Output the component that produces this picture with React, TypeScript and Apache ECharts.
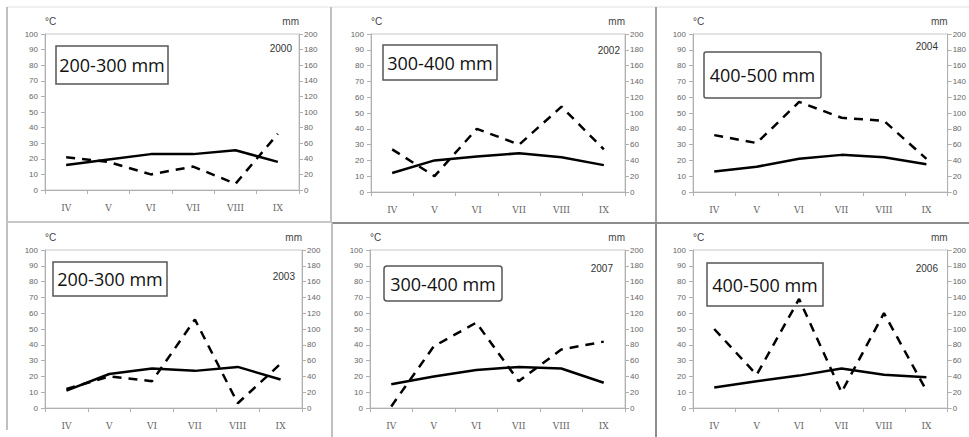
import React, { useEffect, useRef } from "react";
import * as echarts from "echarts";

const months = ["IV", "V", "VI", "VII", "VIII", "IX"];
const leftTicks = { min: 0, max: 100, interval: 10 };
const rightTicks = { min: 0, max: 200, interval: 20 };

const years = ["2000", "2002", "2004", "2003", "2007", "2006"];
const zoneLabels = ["200-300 mm", "300-400 mm", "400-500 mm", "200-300 mm", "300-400 mm", "400-500 mm"];

const temp2000 = [16, 19.5, 23, 23, 25.5, 18];
const precip2000 = [42, 36, 20, 30, 8, 72];
const temp2002 = [12, 20, 22.5, 24.5, 22, 17];
const precip2002 = [54, 20, 80, 60, 108, 54];
const temp2004 = [13, 16, 21, 23.5, 22, 17.5];
const precip2004 = [72, 62, 114, 94, 90, 42];
const temp2003 = [11, 21.5, 25, 23.5, 26, 18];
const precip2003 = [24, 40, 34, 112, 6, 56];
const temp2007 = [15, 20, 24, 26, 25, 16];
const precip2007 = [2, 78, 108, 34, 74, 84];
const temp2006 = [13, 17, 20.5, 25, 21, 19.5];
const precip2006 = [100, 42, 138, 20, 120, 22];

const temps = [temp2000, temp2002, temp2004, temp2003, temp2007, temp2006];
const precips = [precip2000, precip2002, precip2004, precip2003, precip2007, precip2006];

// layout of the six panels (pixels)
const grids = [
  { left: 45, top: 34, width: 254, height: 156 },
  { left: 371, top: 34, width: 254, height: 158 },
  { left: 693, top: 34, width: 255, height: 158 },
  { left: 45, top: 250, width: 257, height: 158 },
  { left: 370, top: 250, width: 255, height: 158 },
  { left: 693, top: 250, width: 255, height: 158 },
];
const boxes = [
  { x: 56, y: 46, w: 112, h: 38, r: 0 },
  { x: 383, y: 45, w: 114, h: 35, r: 0 },
  { x: 704, y: 52, w: 117, h: 46, r: 2 },
  { x: 53, y: 262, w: 114, h: 34, r: 0 },
  { x: 384, y: 266, w: 118, h: 35, r: 3 },
  { x: 707, y: 263, w: 116, h: 43, r: 0 },
];
const yearPos = [
  { x: 292, y: 48 },
  { x: 620, y: 50 },
  { x: 938, y: 46 },
  { x: 295, y: 276 },
  { x: 613, y: 268 },
  { x: 938, y: 268 },
];

const axisGray = "#b0b0b0";
const labelGray = "#666";

export default function App() {
  const ref = useRef<HTMLDivElement>(null);
  useEffect(() => {
    if (!ref.current) return;
    const chart = echarts.init(ref.current, undefined, { renderer: "svg" });

    const gridOpts = grids.map((g) => ({
      left: g.left,
      top: g.top,
      width: g.width,
      height: g.height,
      show: true,
      borderColor: "#c8c8c8",
      borderWidth: 1,
      backgroundColor: "transparent",
    }));

    const xAxes = grids.map((_, i) => ({
      type: "category",
      gridIndex: i,
      data: months,
      boundaryGap: true,
      axisLine: { lineStyle: { color: axisGray } },
      axisTick: { show: true, inside: false, length: 4, lineStyle: { color: axisGray } },
      axisLabel: { color: labelGray, fontSize: 9, fontFamily: "DejaVu Serif", margin: 13 },
      splitLine: { show: false },
    }));

    const yAxes: any[] = [];
    grids.forEach((_, i) => {
      yAxes.push({
        type: "value",
        gridIndex: i,
        position: "left",
        ...leftTicks,
        name: "°C",
        nameLocation: "end",
        nameGap: 8,
        nameTextStyle: { color: "#444", fontSize: 10, align: "left" },
        axisLine: { show: true, lineStyle: { color: axisGray } },
        axisTick: { show: true, length: 4, lineStyle: { color: axisGray } },
        axisLabel: { color: labelGray, fontSize: 8, margin: 7 },
        splitLine: { show: false },
      });
      yAxes.push({
        type: "value",
        gridIndex: i,
        position: "right",
        ...rightTicks,
        name: "mm",
        nameLocation: "end",
        nameGap: 8,
        nameTextStyle: { color: "#444", fontSize: 10, align: "right" },
        axisLine: { show: true, lineStyle: { color: axisGray } },
        axisTick: { show: true, length: 4, lineStyle: { color: axisGray } },
        axisLabel: { color: labelGray, fontSize: 8, margin: 5 },
        splitLine: { show: false },
      });
    });

    const series: any[] = [];
    grids.forEach((_, i) => {
      series.push({
        type: "line",
        xAxisIndex: i,
        yAxisIndex: 2 * i,
        data: temps[i],
        symbol: "none",
        lineStyle: { color: "#000", width: 2.5 },
        z: 6,
      });
      series.push({
        type: "line",
        xAxisIndex: i,
        yAxisIndex: 2 * i + 1,
        data: precips[i],
        symbol: "none",
        lineStyle: { color: "#000", width: 2.5, type: [9, 7] },
        z: 5,
      });
    });

    const graphics: any[] = [];
    // panel frames
    const frame = (x1: number, y1: number, x2: number, y2: number, c: string, w = 2) =>
      graphics.push({ type: "line", shape: { x1, y1, x2, y2 }, style: { stroke: c, lineWidth: w }, silent: true, z: 1 });
    frame(7, 7, 969, 7, "#e0e0e0", 1);
    frame(7, 7, 7, 430, "#c0c0c0", 2);
    frame(331, 7, 331, 222, "#c0c0c0", 2);
    frame(656, 7, 656, 222, "#a0a0a0", 2);
    frame(7, 222, 332, 222, "#c8c8c8", 2);
    frame(332, 223, 969, 223, "#8c8c8c", 2);
    frame(332, 223, 332, 437, "#c0c0c0", 2);
    frame(656, 223, 656, 437, "#8c8c8c", 2);

    boxes.forEach((b, i) => {
      graphics.push({
        type: "rect",
        shape: { x: b.x, y: b.y, width: b.w, height: b.h, r: b.r },
        style: { fill: "#fff", stroke: "#555", lineWidth: 1.5 },
        z: 1,
      });
      graphics.push({
        type: "text",
        x: b.x + b.w / 2,
        y: b.y + b.h / 2,
        style: {
          text: zoneLabels[i],
          fill: "#111",
          fontSize: 18,
          fontFamily: "Open Sans",
          align: "center",
          verticalAlign: "middle",
        },
        z: 2,
      });
    });

    yearPos.forEach((p, i) => {
      graphics.push({
        type: "text",
        x: p.x,
        y: p.y,
        style: { text: years[i], fill: "#333", fontSize: 10, align: "right", verticalAlign: "middle" },
        z: 2,
      });
    });

    chart.setOption({
      animation: false,
      backgroundColor: "#fff",
      grid: gridOpts,
      xAxis: xAxes,
      yAxis: yAxes,
      series,
      graphic: graphics,
    });
    return () => chart.dispose();
  }, []);
  return <div ref={ref} style={{ position: "fixed", left: 0, top: 0, width: 969, height: 437 }} />;
}
